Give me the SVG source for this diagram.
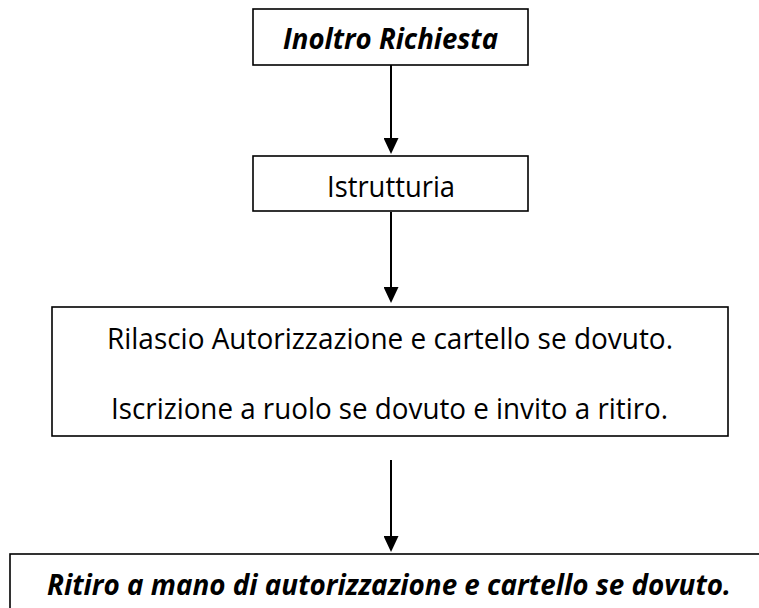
<svg xmlns="http://www.w3.org/2000/svg" width="759" height="608" viewBox="0 0 759 608">
  <style>
    .box { fill: #ffffff; stroke: #000000; stroke-width: 1.6; }
    .conn { stroke: #000000; stroke-width: 2; fill: none; }
    .t { font-family: "Open Sans", "Noto Sans", "Liberation Sans", sans-serif; font-size: 28.5px; fill: #000000; text-anchor: middle; }
    .bi { font-weight: bold; font-style: italic; }
  </style>
  <defs>
    <marker id="arrow" viewBox="0 0 16 15" refX="8" refY="7.5" markerWidth="16" markerHeight="15" markerUnits="userSpaceOnUse" orient="auto">
      <path d="M0,0 L16,7.5 L0,15 Z" fill="#000000"/>
    </marker>
  </defs>
  <rect x="0" y="0" width="759" height="608" fill="#ffffff"/>

  <g id="connectors">
    <line class="conn" x1="391" y1="65" x2="391" y2="146" marker-end="url(#arrow)"/>
    <line class="conn" x1="391" y1="212" x2="391" y2="295" marker-end="url(#arrow)"/>
    <line class="conn" x1="391" y1="460" x2="391" y2="544" marker-end="url(#arrow)"/>
  </g>

  <g id="node-inoltro">
    <rect class="box" x="253" y="9" width="275" height="56"/>
    <text class="t bi" x="390.5" y="49" textLength="215" lengthAdjust="spacingAndGlyphs">Inoltro Richiesta</text>
  </g>

  <g id="node-istrutturia">
    <rect class="box" x="253" y="156" width="275" height="55"/>
    <text class="t" x="391" y="197" textLength="128" lengthAdjust="spacingAndGlyphs">Istrutturia</text>
  </g>

  <g id="node-rilascio">
    <rect class="box" x="52" y="307" width="676" height="129"/>
    <text class="t" x="390" y="349" textLength="566" lengthAdjust="spacingAndGlyphs">Rilascio Autorizzazione e cartello se dovuto.</text>
    <text class="t" x="389.5" y="419" textLength="557" lengthAdjust="spacingAndGlyphs">Iscrizione a ruolo se dovuto e invito a ritiro.</text>
  </g>

  <g id="node-ritiro">
    <rect class="box" x="10" y="554" width="770" height="80"/>
    <text class="t bi" x="389" y="595" textLength="684" lengthAdjust="spacingAndGlyphs">Ritiro a mano di autorizzazione e cartello se dovuto.</text>
  </g>
</svg>
